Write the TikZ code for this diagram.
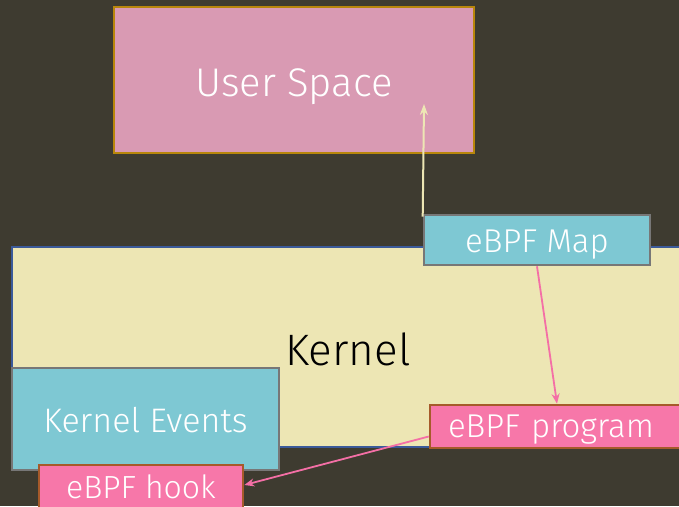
\documentclass[tikz,border=0pt]{standalone}
\usepackage{fontspec}
\setmainfont{Fira Sans Light}
\usetikzlibrary{arrows.meta}
\definecolor{bg}{HTML}{3E3B30}
\definecolor{userfill}{HTML}{D99AB3}
\definecolor{userline}{HTML}{B8860B}
\definecolor{kernfill}{HTML}{EDE6B4}
\definecolor{kernline}{HTML}{3B5A9A}
\definecolor{cyanfill}{HTML}{7EC8D3}
\definecolor{cyanline}{HTML}{777777}
\definecolor{pinkfill}{HTML}{F777A9}
\definecolor{pinkline}{HTML}{A65A2A}
\definecolor{pinkarrow}{HTML}{F46FA6}
% put a label's baseline a given distance below the node centre
\newcommand{\basedrop}[2]{\raisebox{-#1}[0pt][0pt]{#2}}
\tikzset{
  box/.style={draw, rectangle, inner sep=0pt, text=white, line width=2.4pt},
  userbox/.style={box, fill=userfill, draw=userline, font=\fontsize{40}{42}\selectfont},
  kernbox/.style={box, fill=kernfill, draw=kernline, line width=1.6pt, text=black, font=\fontsize{44}{46}\selectfont},
  cyanbox/.style={box, fill=cyanfill, draw=cyanline, line width=2.6pt},
  pinkbox/.style={box, fill=pinkfill, draw=pinkline, line width=2.6pt},
  link/.style={line width=1.8pt, draw=pinkarrow, -{Stealth[length=10pt,width=8pt]}},
  uplink/.style={line width=2pt, draw=kernfill, -{Stealth[length=11pt,width=8pt]}}
}
\begin{document}
\begin{tikzpicture}[x=1pt,y=-1pt]
  \useasboundingbox (0,0) rectangle (679,506);
  \fill[bg] (0,0) rectangle (679,506);
  \clip (0,0) rectangle (679,506);
  % user space box
  \node[userbox, minimum width=360pt, minimum height=146pt] (user) at (294,80) {\basedrop{16pt}{User Space}};
  % kernel region, running off the right edge
  \node[kernbox, minimum width=672pt, minimum height=200pt] (kernel) at (348,347) {\basedrop{18pt}{Kernel}};
  % map shared with user space
  \node[cyanbox, minimum width=226pt, minimum height=50pt, font=\fontsize{33}{35}\selectfont] (map) at (537,240) {\basedrop{12pt}{eBPF Map}};
  % event source
  \node[cyanbox, minimum width=267pt, minimum height=102pt, font=\fontsize{34}{36}\selectfont] (events) at (145.5,419) {\basedrop{13pt}{Kernel Events}};
  % program and hook
  \node[pinkbox, minimum width=270pt, minimum height=43pt, font=\fontsize{33}{35}\selectfont, text width=250pt, align=left] (prog) at (565,426.5) {\hspace*{8pt}\basedrop{11pt}{eBPF program}};
  \node[pinkbox, minimum width=204pt, minimum height=46pt, font=\fontsize{32}{34}\selectfont] (hook) at (141,488) {\basedrop{10pt}{eBPF hook}};
  % connectors
  \coordinate (usertip) at (424,104);
  \draw[uplink] ([yshift=-3pt]map.north west) -- (usertip);
  \draw[link] (map.south) -- ([xshift=-8pt]prog.north);
  \draw[link] ([yshift=-10pt]prog.west) -- ([yshift=3pt]hook.east);
\end{tikzpicture}
\end{document}
